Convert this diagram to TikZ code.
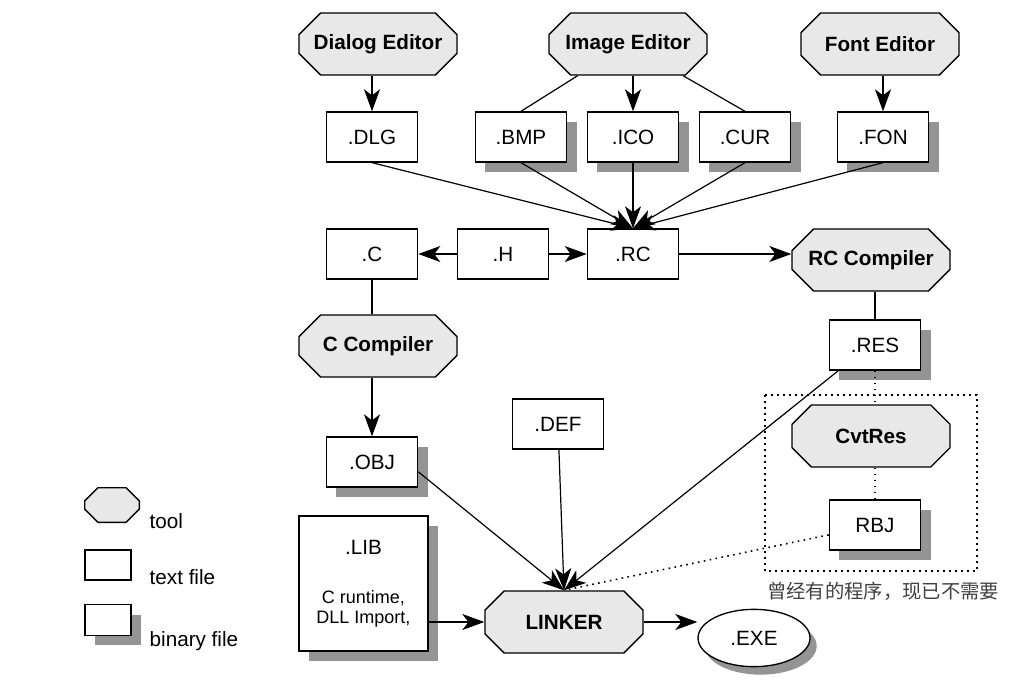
\documentclass[tikz,border=0pt]{standalone}
\usepackage{fontspec}
\setmainfont{Liberation Sans}
\newfontfamily\cjkfont{Noto Sans CJK SC}
\usetikzlibrary{shapes.misc,shapes.geometric,shadows,arrows.meta}

\tikzset{
  tool/.style={chamfered rectangle, chamfered rectangle xsep=9pt, chamfered rectangle ysep=9pt,
    draw, line width=1pt, fill=black!9, minimum width=118.5pt, minimum height=46.5pt, inner sep=0pt,
    font=\bfseries\fontsize{15.5}{18}\selectfont},
  txtfile/.style={draw, line width=1pt, fill=white, minimum width=68.5pt, minimum height=37.5pt,
    inner sep=0pt, font=\fontsize{15.5}{18}\selectfont},
  binfile/.style={txtfile, drop shadow={shadow xshift=7.5pt, shadow yshift=-7.5pt, fill=black!42, opacity=1}},
  arr/.style={-{Stealth[length=16.5pt, width=12pt, inset=4.5pt]}, line width=0.9pt},
  conn/.style={line width=0.9pt},
  dotline/.style={line width=1.2pt, dash pattern=on 1.2pt off 3.3pt},
  legtext/.style={anchor=west, font=\fontsize{15.5}{18}\selectfont},
}

\begin{document}
\begin{tikzpicture}[x=0.75pt, y=-0.75pt]
  \useasboundingbox (0,0) rectangle (1020,695);

  \node[tool] (dlged) at (378,44) {Dialog Editor};
  \node[tool] (imged) at (628,44) {Image Editor};
  \node[tool] (fonted) at (880,44) {Font Editor};

  \node[txtfile] (dlg) at (372,137) {.DLG};
  \node[binfile] (bmp) at (521,137) {.BMP};
  \node[binfile] (ico) at (633,137) {.ICO};
  \node[binfile] (cur) at (745,137) {.CUR};
  \node[binfile] (fon) at (883,137) {.FON};

  \node[txtfile] (c) at (372,254) {.C};
  \node[txtfile] (h) at (503,254) {.H};
  \node[txtfile] (rc) at (633,254) {.RC};
  \node[tool] (rcc) at (871,260) {RC Compiler};

  \node[tool] (ccomp) at (378,346) {C Compiler};
  \node[binfile] (res) at (875,345) {.RES};
  \node[tool] (cvt) at (871,436) {CvtRes};
  \node[binfile] (rbj) at (875,525) {RBJ};

  \node[txtfile] (def) at (558,424) {.DEF};
  \node[binfile] (obj) at (372,462) {.OBJ};
  \node[binfile, minimum width=96.75pt, minimum height=101.25pt] (lib) at (363.5,583.5) {};
  \node[font=\fontsize{15.5}{18}\selectfont] (libname) at (363.5,547) {.LIB};
  \node[font=\fontsize{13.5}{15}\selectfont, align=center] (libnote) at (363.5,609) {C runtime,\\DLL Import,};

  \node[tool] (linker) at (564,622) {LINKER};
  \node[ellipse, draw, line width=1pt, fill=white, minimum width=84pt, minimum height=43pt, inner sep=0pt,
    font=\fontsize{15.5}{18}\selectfont,
    drop shadow={shadow xshift=5pt, shadow yshift=-6pt, fill=black!42, opacity=1}] (exe) at (754,638) {.EXE};

  \draw[dotline] (765,395) rectangle (977,571);
  \node[font=\cjkfont\fontsize{14.5}{17}\selectfont, text=black!75] (note) at (883,591) {曾经有的程序，现已不需要};

  \draw[arr] (dlg |- dlged.south) -- (dlg.north);
  \draw[conn] (imged) -- (bmp.north);
  \draw[arr] (ico |- imged.south) -- (ico.north);
  \draw[conn] (imged) -- (cur.north);
  \draw[arr] (fon |- fonted.south) -- (fon.north);
  \foreach \f in {dlg,bmp,ico,cur,fon}
    \draw[arr] (\f.south) -- (rc.north);

  \draw[arr] (h) -- (c);
  \draw[arr] (h) -- (rc);
  \draw[arr] (rc.east) -- (rc.east -| rcc.west);
  \draw[conn] (c.south) -- (c.south |- ccomp.north);
  \draw[arr] (obj |- ccomp.south) -- (obj.north);
  \draw[conn] (res |- rcc.south) -- (res.north);
  \draw[dotline] (res.south) -- (res.south |- cvt.north);
  \draw[dotline] (rbj |- cvt.south) -- (rbj.north);

  \draw[arr] (obj.-12) -- (linker.north);
  \draw[arr] (def) -- (linker.north);
  \draw[arr] (res.-145) -- (linker.north);
  \draw[dotline] (rbj.192) -- (linker.north);
  \draw[arr] (lib.east |- linker.west) -- (linker.west);
  \draw[arr] (linker.east) -- (linker.east -| exe.west);

  \node[tool, chamfered rectangle xsep=5pt, chamfered rectangle ysep=5pt, minimum width=41pt,
    minimum height=26pt] (legtool) at (112,505) {\phantom{\rule{24pt}{12pt}}};
  \node[legtext] (legtoolname) at (145,521) {tool};
  \node[txtfile, minimum width=34.5pt, minimum height=22.5pt] (legtxt) at (108,565) {};
  \node[legtext] (legtxtname) at (145,577) {text file};
  \node[binfile, minimum width=34.5pt, minimum height=23pt] (legbin) at (108,620) {};
  \node[legtext] (legbinname) at (145,641) {binary file};
\end{tikzpicture}
\end{document}
